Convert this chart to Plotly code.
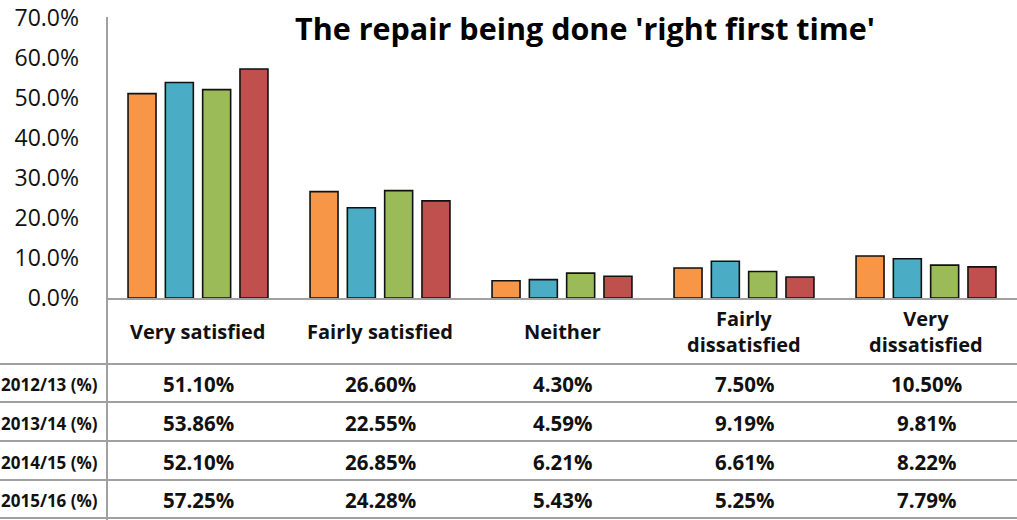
import plotly.graph_objects as go

categories = ["Very satisfied", "Fairly satisfied", "Neither", "Fairly dissatisfied", "Very dissatisfied"]
category_labels = ["Very satisfied", "Fairly satisfied", "Neither", "Fairly<br>dissatisfied", "Very<br>dissatisfied"]
series_names = ["2012/13 (%)", "2013/14 (%)", "2014/15 (%)", "2015/16 (%)"]
v_2012_13 = [51.10, 26.60, 4.30, 7.50, 10.50]
v_2013_14 = [53.86, 22.55, 4.59, 9.19, 9.81]
v_2014_15 = [52.10, 26.85, 6.21, 6.61, 8.22]
v_2015_16 = [57.25, 24.28, 5.43, 5.25, 7.79]
series_values = [v_2012_13, v_2013_14, v_2014_15, v_2015_16]
colors = ["#F79646", "#4BACC6", "#9BBB59", "#C0504D"]
y_ticks = [0, 0.1, 0.2, 0.3, 0.4, 0.5, 0.6, 0.7]
title = "The repair being done 'right first time'"

# the page body margin is removed below, so figure px == window px
W, H = 1017, 520
AX_L, AX_T, AX_B = 107, 18, 298          # px of the plot area
L = AX_L
T = AX_T
B = H - AX_B
R = 0
plot_h = AX_B - AX_T
plot_w = W - L - R
FONT = "'Open Sans', 'Noto Sans', sans-serif"


def py(p):
    return (AX_B - p) / plot_h


def px(p):
    return (p - AX_L) / plot_w


fig = go.Figure()
for name, vals, c in zip(series_names, series_values, colors):
    fig.add_trace(go.Bar(
        x=categories, y=[v / 100 for v in vals], name=name,
        marker=dict(color=c, line=dict(color="#111111", width=1.6)),
        showlegend=False, hoverinfo="skip",
    ))

annotations = []
cat_font = dict(size=20, color="#111111", family=FONT)
val_font = dict(size=20.5, color="#111111", family=FONT)
for cat, lab in zip(categories, category_labels):
    annotations.append(dict(x=cat, y=py(331), xref="x", yref="paper", text=f"<b>{lab}</b>",
                            showarrow=False, font=cat_font, xanchor="center", yanchor="middle"))
row_centers = [384, 423, 462, 500]
for name, vals, rc in zip(series_names, series_values, row_centers):
    annotations.append(dict(x=px(100), y=py(rc), xref="paper", yref="paper", text=f"<b>{name}</b>",
                            showarrow=False, font=dict(size=17, color="#111111", family=FONT),
                            xanchor="right", yanchor="middle"))
    for cat, v in zip(categories, vals):
        annotations.append(dict(x=cat, y=py(rc), xref="x", yref="paper", text=f"<b>{v:.2f}%</b>",
                                showarrow=False, font=val_font, xanchor="center", yanchor="middle"))
annotations.append(dict(x=px(585), y=py(28), xref="paper", yref="paper", text=f"<b>{title}</b>",
                        showarrow=False, font=dict(size=30.5, color="#000000", family=FONT),
                        xanchor="center", yanchor="middle"))

shapes = []
line_col = "#A0A0A0"
shapes.append(dict(type="line", xref="paper", yref="paper", x0=0, x1=0, y0=py(17), y1=py(H + 10),
                   line=dict(color=line_col, width=2)))
for yy in [364, 402, 441, 480, 518]:
    shapes.append(dict(type="line", xref="paper", yref="paper", x0=px(0), x1=1, y0=py(yy), y1=py(yy),
                       line=dict(color=line_col, width=2)))

fig.update_layout(
    width=W, height=H,
    margin=dict(l=L, r=R, t=T, b=B, pad=0),
    plot_bgcolor="white", paper_bgcolor="white",
    barmode="group", bargap=0.18, bargroupgap=0.25,
    font=dict(family=FONT, color="#111111"),
    xaxis=dict(showticklabels=False, showline=True, linecolor=line_col, linewidth=2,
               showgrid=False, zeroline=False, ticks="", fixedrange=True),
    yaxis=dict(range=[0, 0.7], tickvals=y_ticks, tickformat=".1%", showgrid=False,
               zeroline=False, showline=False, ticks="", ticklabelstandoff=27, automargin=False,
               ticklabeloverflow="allow",
               tickfont=dict(size=23, color="#111111", family=FONT), fixedrange=True),
    annotations=annotations, shapes=shapes,
)

fig.write_html("out.html", config={"displayModeBar": False},
               post_script="document.body.style.margin='0px';")
